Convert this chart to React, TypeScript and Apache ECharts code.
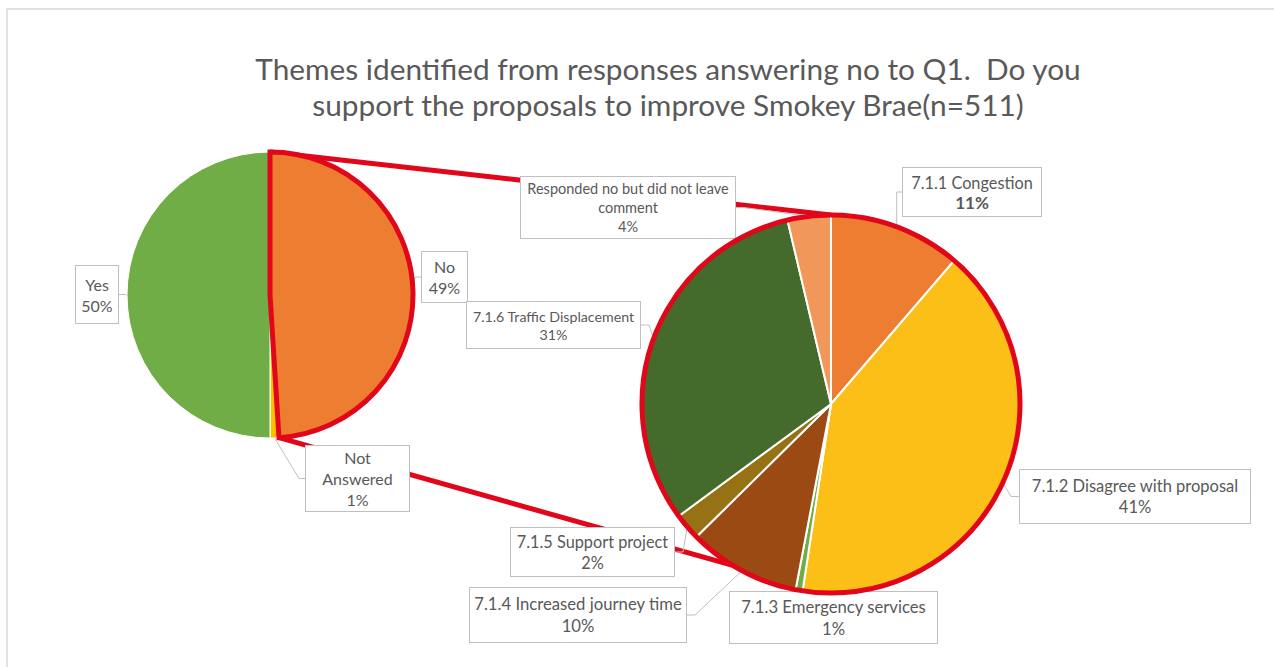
import React, { useEffect, useRef } from 'react';
import * as echarts from 'echarts';

// ---------- data ----------
const TITLE_LINES = [
  'Themes identified from responses answering no to Q1.  Do you',
  'support the proposals to improve Smokey Brae(n=511)',
];

const MAIN_CATEGORIES = ['No', 'Not\nAnswered', 'Yes'];
const MAIN_VALUES = [49, 1, 50];
const MAIN_COLORS = ['#ED7D31', '#FFC000', '#70AD47'];
const SPLIT_INDEX = 0; // "No" is broken down in the second pie

const THEME_CATEGORIES = [
  '7.1.1 Congestion',
  '7.1.2 Disagree with proposal',
  '7.1.3 Emergency services',
  '7.1.4 Increased journey time',
  '7.1.5 Support project',
  '7.1.6 Traffic Displacement',
  'Responded no but did not leave\ncomment',
];
const THEME_VALUES = [11.3, 41.1, 0.6, 9.6, 2.3, 31.4, 3.7];
const THEME_COLORS = ['#ED7D31', '#FBBF17', '#70AD47', '#9C4A14', '#967215', '#446A2C', '#F1975A'];

// ---------- layout ----------
const LEFT_PIE = { cx: 270, cy: 295, r: 143 };
const RIGHT_PIE = { cx: 831, cy: 404, r: 189 };
// [centerX, centerY, boxWidth, boxHeight]
const MAIN_LABEL_BOXES = [
  [444.5, 277, 45, 50],
  [357.5, 478.5, 103, 65],
  [97, 294.5, 42, 57],
];
const THEME_LABEL_BOXES = [
  [972, 192, 138, 48],
  [1135, 496.5, 230, 53],
  [833.5, 617.5, 207, 51],
  [578, 615, 216, 54],
  [592.5, 552, 163, 48],
  [553.5, 325, 173, 46],
  [628, 207.5, 214, 61],
];
const THEME_LABEL_FONT = [16.3, 16.5, 16.7, 16.7, 16.3, 14.2, 14.5];

const RED = '#E2061A';
const TEXT = '#595959';
const FONT = 'Lato, sans-serif';

function pointAt(p: { cx: number; cy: number; r: number }, deg: number) {
  const a = (deg * Math.PI) / 180;
  return [p.cx + p.r * Math.cos(a), p.cy - p.r * Math.sin(a)];
}

function buildOption() {
  const total = MAIN_VALUES.reduce((s, v) => s + v, 0);
  const before = MAIN_VALUES.slice(0, SPLIT_INDEX).reduce((s, v) => s + v, 0);
  const a0 = 90 - (360 * before) / total;
  const a1 = 90 - (360 * (before + MAIN_VALUES[SPLIT_INDEX])) / total;
  const topStart = pointAt(LEFT_PIE, a0);
  const botStart = pointAt(LEFT_PIE, a1);
  const topEnd = [RIGHT_PIE.cx, RIGHT_PIE.cy - RIGHT_PIE.r];
  const botEnd = [RIGHT_PIE.cx, RIGHT_PIE.cy + RIGHT_PIE.r];

  const themeTotal = THEME_VALUES.reduce((s, v) => s + v, 0);
  const pct = (v: number, t: number) => Math.round((v / t) * 100) + '%';

  const commonLabel = {
    show: true,
    position: 'outside',
    color: TEXT,
    fontFamily: FONT,
    backgroundColor: '#fff',
    borderColor: '#BFBFBF',
    borderWidth: 1,
    align: 'center',
    verticalAlign: 'middle',
    padding: 0,
    overflow: 'none',
  };

  return {
    animation: false,
    backgroundColor: '#fff',
    title: {
      text: TITLE_LINES.join('\n'),
      left: 663,
      top: 45,
      textAlign: 'center',
      textStyle: {
        fontFamily: FONT,
        fontSize: 29.8,
        fontWeight: 'normal',
        color: TEXT,
        lineHeight: 36,
      },
    },
    graphic: [
      {
        type: 'rect',
        z: 0,
        silent: true,
        shape: { x: 7, y: 9, width: 1300, height: 700 },
        style: { fill: 'none', stroke: '#D9D9D9', lineWidth: 1.5 },
      },
      {
        type: 'line',
        z: 1,
        silent: true,
        shape: { x1: topStart[0], y1: topStart[1], x2: topEnd[0], y2: topEnd[1] },
        style: { stroke: RED, lineWidth: 5 },
      },
      {
        type: 'line',
        z: 1,
        silent: true,
        shape: { x1: botStart[0], y1: botStart[1], x2: botEnd[0], y2: botEnd[1] },
        style: { stroke: RED, lineWidth: 5 },
      },
    ],
    series: [
      {
        type: 'pie',
        id: 'main',
        z: 2,
        center: [LEFT_PIE.cx, LEFT_PIE.cy],
        radius: LEFT_PIE.r,
        startAngle: 90,
        clockwise: true,
        avoidLabelOverlap: false,
        emphasis: { disabled: true },
        itemStyle: { borderColor: '#fff', borderWidth: 1 },
        label: {
          ...commonLabel,
          fontSize: 16,
          lineHeight: 21,
          formatter: (p: any) => `${p.name}\n${pct(p.value, total)}`,
        },
        labelLine: { show: true, length: 6, length2: 6, lineStyle: { color: '#BFBFBF', width: 1 } },
        labelLayout: (p: any) => {
          const b = MAIN_LABEL_BOXES[p.dataIndex];
          return { x: b[0], y: b[1], align: 'center', verticalAlign: 'middle' };
        },
        data: MAIN_VALUES.map((v, i) => ({
          name: MAIN_CATEGORIES[i],
          value: v,
          itemStyle: { color: MAIN_COLORS[i] },
          label: { width: MAIN_LABEL_BOXES[i][2], height: MAIN_LABEL_BOXES[i][3] },
        })),
      },
      {
        type: 'pie',
        id: 'mainOutline',
        z: 3,
        silent: true,
        center: [LEFT_PIE.cx, LEFT_PIE.cy],
        radius: LEFT_PIE.r,
        startAngle: 90,
        clockwise: true,
        emphasis: { disabled: true },
        label: { show: false },
        labelLine: { show: false },
        data: MAIN_VALUES.map((v, i) => ({
          name: MAIN_CATEGORIES[i],
          value: v,
          itemStyle:
            i === SPLIT_INDEX
              ? { color: 'rgba(0,0,0,0)', borderColor: RED, borderWidth: 5, borderJoin: 'miter' }
              : { color: 'rgba(0,0,0,0)', borderWidth: 0 },
        })),
      },
      {
        type: 'pie',
        id: 'themes',
        z: 2,
        center: [RIGHT_PIE.cx, RIGHT_PIE.cy],
        radius: RIGHT_PIE.r,
        startAngle: 90,
        clockwise: true,
        avoidLabelOverlap: false,
        emphasis: { disabled: true },
        itemStyle: { borderColor: '#fff', borderWidth: 2 },
        label: {
          ...commonLabel,
          fontSize: 14.5,
          lineHeight: 20,
          formatter: (p: any) => `${p.name}\n${pct(p.value, themeTotal)}`,
        },
        labelLine: { show: true, length: 6, length2: 8, lineStyle: { color: '#BFBFBF', width: 1 } },
        labelLayout: (p: any) => {
          const b = THEME_LABEL_BOXES[p.dataIndex];
          return { x: b[0], y: b[1], align: 'center', verticalAlign: 'middle' };
        },
        data: THEME_VALUES.map((v, i) => {
          const b = THEME_LABEL_BOXES[i];
          const fs = THEME_LABEL_FONT[i];
          const label: any =
            i === 0
              ? {
                  width: b[2],
                  fontSize: fs,
                  lineHeight: 20,
                  padding: [4, 0, 4, 0],
                  formatter: (p: any) => `${p.name}\n{big|${pct(p.value, themeTotal)}}`,
                  rich: {
                    big: { fontSize: 17, fontWeight: 'bold', color: TEXT, fontFamily: FONT, lineHeight: 20 },
                  },
                }
              : { width: b[2], height: b[3], fontSize: fs, lineHeight: Math.round(fs * 1.3) };
          return { name: THEME_CATEGORIES[i], value: v, itemStyle: { color: THEME_COLORS[i] }, label };
        }),
      },
      {
        type: 'pie',
        id: 'themesOutline',
        z: 3,
        silent: true,
        center: [RIGHT_PIE.cx, RIGHT_PIE.cy],
        radius: RIGHT_PIE.r,
        emphasis: { disabled: true },
        label: { show: false },
        labelLine: { show: false },
        data: [
          {
            name: 'outline',
            value: themeTotal,
            itemStyle: { color: 'rgba(0,0,0,0)', borderColor: RED, borderWidth: 5 },
          },
        ],
      },
    ],
  };
}

export default function App() {
  const ref = useRef<HTMLDivElement>(null);
  useEffect(() => {
    if (!ref.current) return;
    const chart = echarts.init(ref.current, undefined, { renderer: 'svg' });
    chart.setOption(buildOption() as any);
    return () => chart.dispose();
  }, []);
  return (
    <div
      ref={ref}
      style={{ position: 'absolute', left: 0, top: 0, width: 1274, height: 667, background: '#fff' }}
    />
  );
}
